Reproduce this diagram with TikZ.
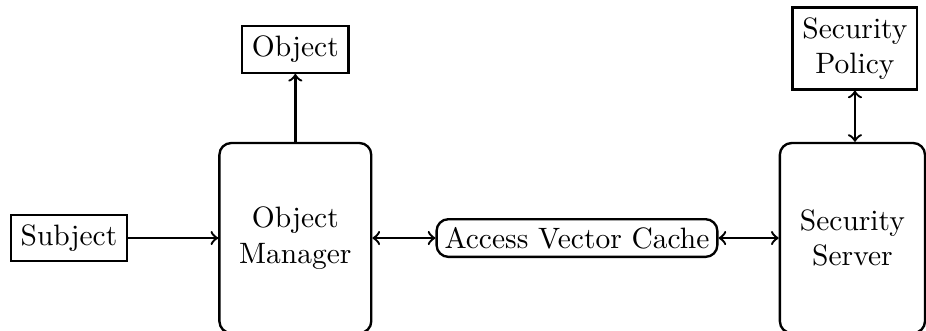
\documentclass[tikz,border=0pt]{standalone}
\usetikzlibrary{positioning}

\tikzset{
    plainbox/.style={draw, thick, align=center},
    roundbox/.style={draw, thick, rounded corners, align=center},
    bigbox/.style={roundbox, minimum height=2.265cm},
}

\begin{document}
\begin{tikzpicture}[thick]
\useasboundingbox (0,0) rectangle (11.037,-3.945);

\node[plainbox] (subject) at (0.822,-2.837) {Subject};
\node[bigbox, minimum width=1.81cm] (objmgr) at (3.52,-2.837) {Object\\Manager};
\node[plainbox] (object) at (3.52,-0.59) {Object};
\node[roundbox, inner sep=2.7pt] (avc) at (6.877,-2.837) {Access Vector Cache};
\node[bigbox, minimum width=1.73cm] (secserver) at (10.16,-2.837) {Security\\Server};
\node[plainbox] (secpolicy) at (10.19,-0.578) {Security\\Policy};

\draw[->] (subject) -- (objmgr);
\draw[->] (objmgr.north) -- (object.south);
\draw[<->] (objmgr) -- (avc);
\draw[<->] (avc) -- (secserver);
\draw[<->] (secpolicy.south) -- (secpolicy.south |- secserver.north);
\end{tikzpicture}
\end{document}
